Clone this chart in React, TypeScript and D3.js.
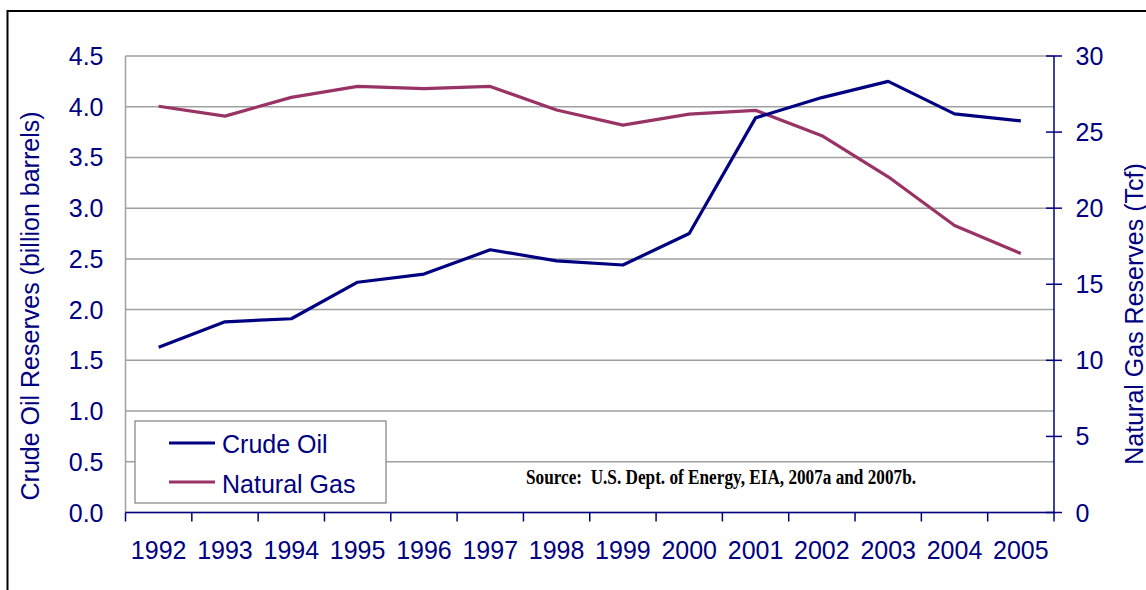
import React from "react";
import * as d3 from "d3";

const years = ["1992","1993","1994","1995","1996","1997","1998","1999","2000","2001","2002","2003","2004","2005"];
const crudeOil = [1.63, 1.88, 1.91, 2.27, 2.35, 2.59, 2.48, 2.44, 2.75, 3.89, 4.09, 4.25, 3.93, 3.86];
const naturalGas = [26.7, 26.05, 27.28, 28.0, 27.85, 28.0, 26.45, 25.46, 26.18, 26.43, 24.76, 22.06, 18.86, 17.02];
const leftTicks = [0, 0.5, 1.0, 1.5, 2.0, 2.5, 3.0, 3.5, 4.0, 4.5];
const rightTicks = [0, 5, 10, 15, 20, 25, 30];
const seriesNames = ["Crude Oil", "Natural Gas"];

const W = 1146, H = 590;
const L = 125.5, R = 1054, T = 56, B = 512.5;
const NAVY = "#000080";
const PLUM = "#993366";
const FONT = "Arial, 'Liberation Sans', sans-serif";

export default function App() {
  const x = d3.scaleBand().domain(years).range([L, R]);
  const yL = d3.scaleLinear().domain([0, 4.5]).range([B, T]);
  const yR = d3.scaleLinear().domain([0, 30]).range([B, T]);
  const cx = (d: string) => (x(d) as number) + x.bandwidth() / 2;

  const oilLine = d3.line<number>().x((_, i) => cx(years[i])).y((v) => yL(v))(crudeOil) as string;
  const gasLine = d3.line<number>().x((_, i) => cx(years[i])).y((v) => yR(v))(naturalGas) as string;

  const boundaries = years.map((d) => x(d) as number).concat([R]);

  return (
    <svg width={W} height={H} style={{ position: "absolute", left: 0, top: 0, background: "#fff" }} fontFamily={FONT}>
      <rect x={0} y={0} width={W} height={H} fill="#fff" />
      {/* outer frame */}
      <rect x={7.5} y={11} width={W + 20} height={H + 20} fill="none" stroke="#000" strokeWidth={2} />

      {/* gridlines */}
      {leftTicks.map((t) => (
        <line key={"g" + t} x1={L} x2={R} y1={yL(t)} y2={yL(t)} stroke="#a0a0a0" strokeWidth={1.5} />
      ))}
      {/* left axis line (gray) */}
      <line x1={L} x2={L} y1={T} y2={B} stroke="#a0a0a0" strokeWidth={1.5} />

      {/* left tick labels */}
      {leftTicks.map((t) => (
        <text key={"lt" + t} x={103.5} y={yL(t) + 9} textAnchor="end" fontSize={25} fill={NAVY}>
          {d3.format(".1f")(t)}
        </text>
      ))}

      {/* right axis */}
      <line x1={R} x2={R} y1={T} y2={B} stroke={NAVY} strokeWidth={1.5} />
      {rightTicks.map((t) => (
        <g key={"rt" + t}>
          <line x1={R - 8} x2={R + 8} y1={yR(t)} y2={yR(t)} stroke={NAVY} strokeWidth={1.5} />
          <text x={1075.5} y={yR(t) + 9} textAnchor="start" fontSize={25} fill={NAVY}>
            {t}
          </text>
        </g>
      ))}

      {/* x axis */}
      <line x1={L} x2={R + 1} y1={B} y2={B} stroke={NAVY} strokeWidth={1.5} />
      {boundaries.map((b, i) => (
        <line key={"xt" + i} x1={b} x2={b} y1={B} y2={B + 9} stroke={NAVY} strokeWidth={1.5} />
      ))}
      {years.map((d) => (
        <text key={"xl" + d} x={cx(d)} y={559} textAnchor="middle" fontSize={25} fill={NAVY}>
          {d}
        </text>
      ))}

      {/* axis titles */}
      <text transform={`translate(39,306) rotate(-90)`} textAnchor="middle" fontSize={25} fill={NAVY}>
        Crude Oil Reserves (billion barrels)
      </text>
      <text transform={`translate(1143,314) rotate(-90)`} textAnchor="middle" fontSize={25} fill={NAVY}>
        Natural Gas Reserves (Tcf)
      </text>

      {/* series */}
      <path d={gasLine} fill="none" stroke={PLUM} strokeWidth={3.2} strokeLinejoin="round" />
      <path d={oilLine} fill="none" stroke={NAVY} strokeWidth={3.2} strokeLinejoin="round" />

      {/* legend */}
      <rect x={135} y={421} width={251} height={82} fill="#fff" stroke="#808080" strokeWidth={1.2} />
      <line x1={169} x2={215} y1={443} y2={443} stroke={NAVY} strokeWidth={3.2} />
      <text x={222} y={453} fontSize={25} fill={NAVY}>{seriesNames[0]}</text>
      <line x1={169} x2={215} y1={482} y2={482} stroke={PLUM} strokeWidth={3.2} />
      <text x={222} y={492.5} fontSize={25} fill={NAVY}>{seriesNames[1]}</text>

      {/* source */}
      <text x={526} y={484} fontSize={20.5} fontWeight="bold" fill="#000" fontFamily="'Times New Roman', 'Liberation Serif', serif"
        textLength={390} lengthAdjust="spacingAndGlyphs" style={{ whiteSpace: "pre" }}>
        {"Source:  U.S. Dept. of Energy, EIA, 2007a and 2007b."}
      </text>
    </svg>
  );
}
